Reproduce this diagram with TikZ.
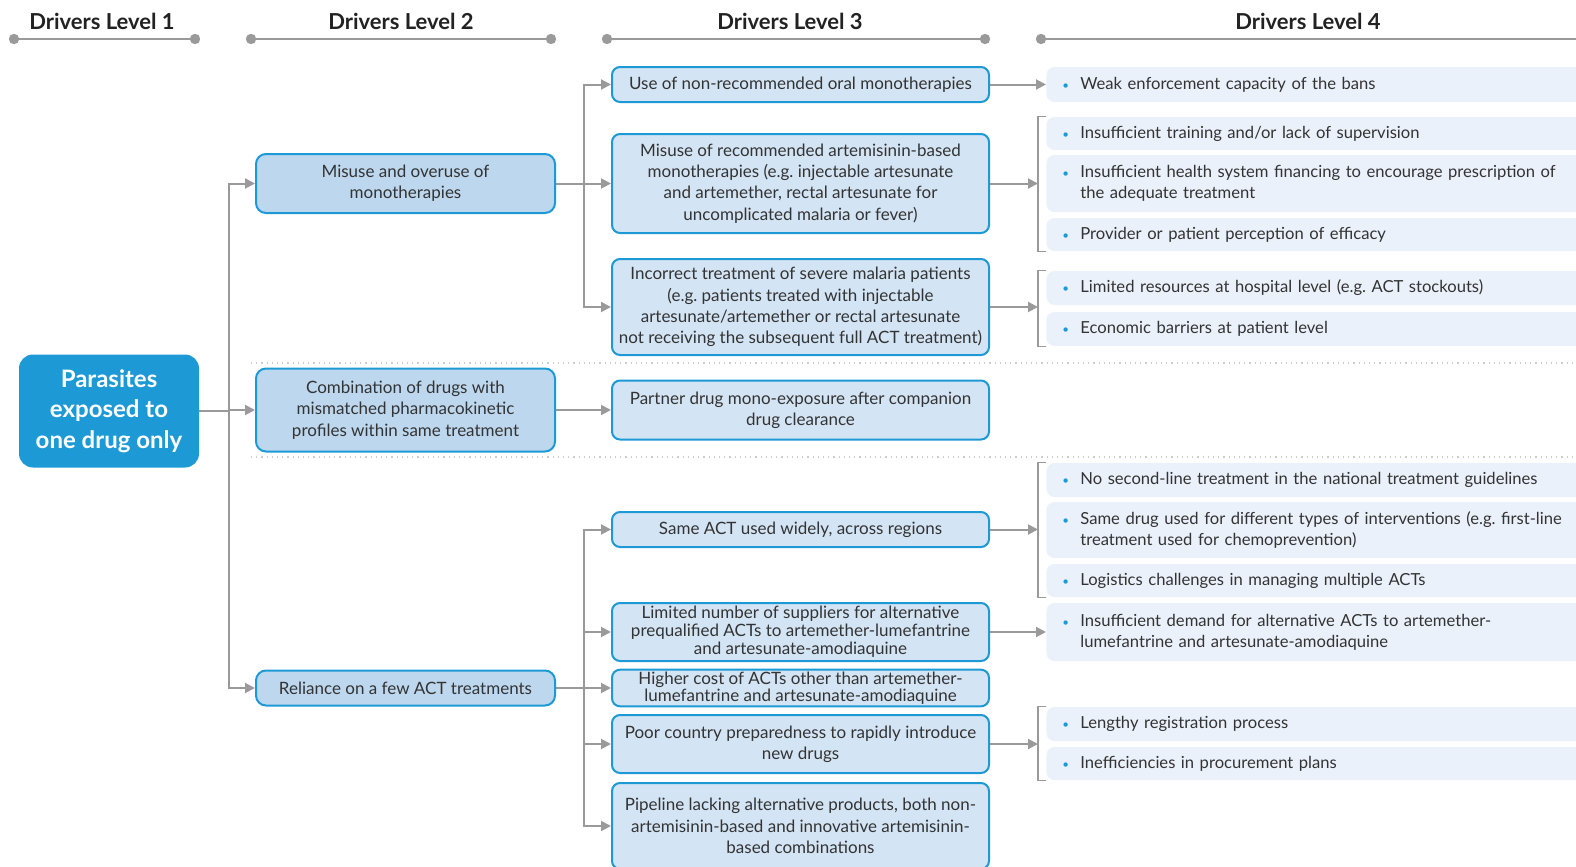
\documentclass[tikz,border=0pt]{standalone}
\usepackage{fontspec}
\usepackage{graphicx}
\usepackage{tikz}
\usetikzlibrary{arrows.meta}
\setmainfont{Lato}
\definecolor{BrandBlue}{RGB}{29,154,214}
\definecolor{BoxBlueDark}{RGB}{189,215,238}
\definecolor{BoxBlue}{RGB}{211,228,244}
\definecolor{PaleBlue}{RGB}{234,241,250}
\definecolor{LinkGray}{RGB}{154,154,154}
\definecolor{InkText}{RGB}{51,51,51}
\definecolor{HeadText}{RGB}{34,34,34}
\newcommand{\bodyfont}{\fontsize{8.5}{10.6}\selectfont}
\newcommand{\listfont}{\fontsize{8.3}{10.6}\selectfont}
\newcommand{\dotitem}[1]{\makebox[9pt][l]{\textcolor{BrandBlue}{\scalebox{0.7}{\textbullet}}}\parbox[t]{270pt}{\raggedright #1}}

\begin{document}
\begin{tikzpicture}[x=0.5pt,y=-0.5pt,
    head/.style={font=\fontsize{11}{13}\selectfont\bfseries,text=HeadText},
    rootbox/.style={fill=BrandBlue,rounded corners=7pt,minimum width=90pt,minimum height=56.5pt,
      align=center,text=white,font=\fontsize{12}{15.3}\selectfont\bfseries},
    lvtwo/.style={draw=BrandBlue,fill=BoxBlueDark,line width=1pt,rounded corners=5pt,
      minimum width=149.5pt,inner sep=1pt,align=center,text=InkText,font=\bodyfont},
    lvthree/.style={draw=BrandBlue,fill=BoxBlue,line width=1pt,rounded corners=4pt,
      minimum width=188.5pt,inner sep=1pt,align=center,text=InkText,font=\bodyfont},
    lvfour/.style={fill=PaleBlue,rounded corners=4pt,anchor=west,minimum width=300pt,
      text width=284pt,inner xsep=8pt,inner ysep=1pt,align=left,text=InkText,font=\listfont},
    link/.style={draw=LinkGray,line width=1pt},
    arr/.style={link,-{Triangle[length=5pt,width=5pt]}},
    brk/.style={draw=LinkGray,line width=0.8pt},
    sep/.style={draw=LinkGray!50,dotted,line width=0.6pt},
    hdot/.style={fill=LinkGray}]
  \useasboundingbox (0,0) rectangle (1576,867);
  \clip (0,0) rectangle (1576,867);

  % column headers
  \node[head] (h1) at (102,21) {Drivers Level 1};
  \node[head] (h2) at (401,21) {Drivers Level 2};
  \node[head] (h3) at (790,21) {Drivers Level 3};
  \node[head] (h4) at (1308,21) {Drivers Level 4};
  \draw[link] (14,39) -- (195,39) (251,39) -- (551,39) (607,39) -- (985,39) (1041,39) -- (1600,39);
  \foreach \x in {14,195,251,551,607,985,1041}
    \fill[hdot] (\x,39) circle (2.6pt);

  % separators
  \draw[sep] (251,363) -- (1576,363);
  \draw[sep] (251,457) -- (1576,457);

  % level 1 and 2
  \node[rootbox] (root) at (109,411) {Parasites\\exposed to\\one drug only};
  \node[lvtwo,minimum height=29.5pt] (m1) at (405.5,183.5) {Misuse and overuse of\\monotherapies};
  \node[lvtwo,minimum height=41.5pt] (m2) at (405.5,410) {Combination of drugs with\\mismatched pharmacokinetic\\profiles within same treatment};
  \node[lvtwo,minimum height=17.5pt] (m3) at (405.5,688) {Reliance on a few ACT treatments};

  % level 3
  \node[lvthree,minimum height=17.5pt] (a1) at (800.5,84.5) {Use of non-recommended oral monotherapies};
  \node[lvthree,minimum height=49.5pt] (a2) at (800.5,183.5) {Misuse of recommended artemisinin-based\\monotherapies (e.g.\ injectable artesunate\\and artemether, rectal artesunate for\\uncomplicated malaria or fever)};
  \node[lvthree,minimum height=48pt] (a3) at (800.5,307) {Incorrect treatment of severe malaria patients\\(e.g.\ patients treated with injectable\\artesunate/artemether or rectal artesunate\\not receiving the subsequent full ACT treatment)};
  \node[lvthree,minimum height=29.5pt] (b1) at (800.5,410) {Partner drug mono-exposure after companion\\drug clearance};
  \node[lvthree,minimum height=17.5pt] (c1) at (800.5,529.5) {Same ACT used widely, across regions};
  \node[lvthree,minimum height=29pt] (c2) at (800.5,632) {Limited number of suppliers for alternative\\[-1.6pt]prequalified ACTs to artemether-lumefantrine\\[-1.6pt]and artesunate-amodiaquine};
  \node[lvthree,minimum height=17.5pt] (c3) at (800.5,688) {Higher cost of ACTs other than artemether-\\[-2pt]lumefantrine and artesunate-amodiaquine};
  \node[lvthree,minimum height=29pt] (c4) at (800.5,744) {Poor country preparedness to rapidly introduce\\new drugs};
  \node[lvthree,minimum height=43pt] (c5) at (800.5,826) {Pipeline lacking alternative products, both non-\\artemisinin-based and innovative artemisinin-\\based combinations};

  % level 4
  \node[lvfour,minimum height=17.5pt] (d1) at (1046,84.5) {\dotitem{Weak enforcement capacity of the bans}};
  \node[lvfour,minimum height=16.5pt] (e1) at (1046,133.5) {\dotitem{Insufficient training and/or lack of supervision}};
  \node[lvfour,minimum height=28.5pt] (e2) at (1046,183.5) {\dotitem{Insufficient health system financing to encourage prescription of\\the adequate treatment}};
  \node[lvfour,minimum height=16.5pt] (e3) at (1046,234.5) {\dotitem{Provider or patient perception of efficacy}};
  \node[lvfour,minimum height=17pt] (f1) at (1046,288) {\dotitem{Limited resources at hospital level (e.g.\ ACT stockouts)}};
  \node[lvfour,minimum height=17pt] (f2) at (1046,329) {\dotitem{Economic barriers at patient level}};
  \node[lvfour,minimum height=17pt] (g1) at (1046,480) {\dotitem{No second-line treatment in the national treatment guidelines}};
  \node[lvfour,minimum height=28pt] (g2) at (1046,530) {\dotitem{Same drug used for different types of interventions (e.g.\ first-line\\treatment used for chemoprevention)}};
  \node[lvfour,minimum height=16.5pt] (g3) at (1046,580.5) {\dotitem{Logistics challenges in managing multiple ACTs}};
  \node[lvfour,minimum height=29pt] (k1) at (1046,632) {\dotitem{Insufficient demand for alternative ACTs to artemether-\\lumefantrine and artesunate-amodiaquine}};
  \node[lvfour,minimum height=17pt] (i1) at (1046,724) {\dotitem{Lengthy registration process}};
  \node[lvfour,minimum height=16.5pt] (i2) at (1046,763.5) {\dotitem{Inefficiencies in procurement plans}};

  % connectors, level 1 to 3
  \coordinate (t1) at (229,411);
  \draw[link] (root.east) -- (t1);
  \draw[arr] (t1) |- (m1.west);
  \draw[arr] (t1) |- (m2.west);
  \draw[arr] (t1) |- (m3.west);
  \coordinate (t2) at (584,183.5);
  \draw[link] (m1.east) -- (t2);
  \foreach \n in {a1,a2,a3}
    \draw[arr] (t2) |- (\n.west);
  \draw[arr] (m2.east) -- (b1.west);
  \coordinate (t3) at (584,688);
  \draw[link] (m3.east) -- (t3);
  \foreach \n in {c1,c2,c3,c4,c5}
    \draw[arr] (t3) |- (\n.west);

  % brackets and connectors to level 4
  \draw[arr] (a1.east) -- (d1.west);
  \draw[arr] (c2.east) -- (k1.west);
  \foreach \top/\bot/\src in {e1/e3/a2,f1/f2/a3,g1/g3/c1,i1/i2/c4}{
    \coordinate (\top b) at ([xshift=-4pt]\top.north west);
    \draw[brk] (\top.north west) -- (\top b) |- (\bot.south west);
    \draw[arr] (\src.east) -- (\src.east -| \top b);
  }
\end{tikzpicture}
\end{document}
